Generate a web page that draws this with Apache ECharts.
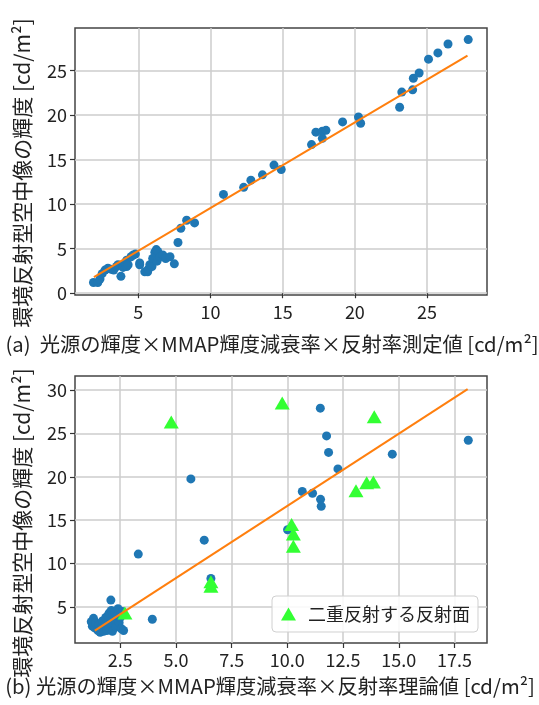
<!DOCTYPE html>
<html><head><meta charset="utf-8">
<script src="https://cdn.jsdelivr.net/npm/echarts@6/dist/echarts.min.js"></script>
<style>html,body{margin:0;padding:0;background:#fff}#c{width:539px;height:705px}</style>
</head><body><div id="c"></div>
<script>
// (a) measured reflectance
const measuredPoints = [
  [1.9,1.2],[2.2,1.2],[2.35,1.6],[2.5,2.2],[2.7,2.6],[2.9,2.8],[3.1,2.7],[3.3,2.6],[3.5,3.0],[3.6,3.2],
  [3.8,1.9],[3.95,2.9],[4.1,3.4],[4.2,3.0],[4.2,3.7],[4.3,3.2],[4.5,4.1],[4.65,4.3],[4.8,4.4],[5.1,3.2],
  [5.1,3.4],[5.45,2.4],[5.65,2.4],[5.7,2.7],[5.8,3.2],[5.95,3.0],[6.0,3.9],[6.15,4.6],[6.25,4.9],[6.3,3.6],
  [6.35,4.7],[6.5,4.1],[6.7,4.3],[6.9,3.9],[7.2,4.1],[7.5,3.3],[7.75,5.7],[7.95,7.3],[8.35,8.2],[8.9,7.9],
  [10.9,11.1],[12.3,11.9],[12.8,12.7],[13.6,13.3],[14.4,14.4],[14.9,13.9],[17.0,16.7],[17.3,18.1],[17.75,18.2],[18.0,18.3],
  [17.75,17.4],[19.15,19.25],[20.25,19.8],[20.4,19.1],[23.1,20.9],[23.25,22.6],[24.0,22.85],[24.05,24.15],[24.45,24.75],[25.1,26.3],
  [25.75,27.0],[26.45,28.0],[27.85,28.5]
];
const measuredFitLine = [[1.93,1.80],[27.8,26.7]];

// (b) theoretical reflectance
const theoryPoints = [
  [1.2,3.3],[1.25,2.8],[1.3,3.7],[1.35,2.6],[1.4,3.2],[1.5,2.3],[1.55,3.0],[1.6,2.1],[1.65,2.6],[1.7,3.4],
  [1.75,2.2],[1.8,2.9],[1.85,3.8],[1.9,2.3],[1.95,4.0],[2.0,2.6],[2.0,4.3],[2.05,3.1],[2.08,5.8],[2.1,4.6],
  [2.15,2.2],[2.2,3.6],[2.25,4.4],[2.3,2.7],[2.35,4.0],[2.4,4.8],[2.45,3.2],[2.5,3.8],[2.55,2.5],[2.6,4.5],[2.65,2.3],
  [3.31,11.1],[3.94,3.6],[5.67,19.75],[6.27,12.7],[6.57,8.3],[10.01,13.9],[10.67,18.3],[11.13,18.1],[11.49,17.4],
  [11.52,16.6],[11.48,27.9],[11.76,24.7],[11.85,22.8],[12.27,20.9],[14.71,22.6],[18.12,24.2]
];
const theoryDoublePoints = [
  [2.71,4.3],[4.79,26.3],[6.57,7.9],[6.57,7.4],[9.77,28.5],[10.19,14.5],[10.27,13.4],[10.27,12.0],
  [13.08,18.4],[13.56,19.3],[13.86,19.4],[13.90,26.9]
];
const theoryFitLine = [[1.36,2.28],[18.09,30.09]];

const ticksAx = [5,10,15,20,25];
const ticksAy = [0,5,10,15,20,25];
const ticksBx = [2.5,5,7.5,10,12.5,15,17.5];
const ticksBy = [5,10,15,20,25,30];

const titleAx = '(a)  光源の輝度×MMAP輝度減衰率×反射率測定値 [cd/m²]';
const titleBx = '(b) 光源の輝度×MMAP輝度減衰率×反射率理論値 [cd/m²]';
const titleY = '環境反射型空中像の輝度 [cd/m²]';
const legendName = '二重反射する反射面';

const FONT = '"Noto Sans CJK JP", "Noto Sans", sans-serif';
const gridLine = {show:true, lineStyle:{color:'#cccccc', width:1.5}};
const tick = {show:true, length:5, lineStyle:{color:'#333', width:1.2}};
function axis(gi, min, max, ticks, fmt) {
  return {
    type:'value', gridIndex:gi, min:min, max:max,
    axisLine:{show:false},
    axisTick:Object.assign({customValues:ticks}, tick),
    axisLabel:{customValues:ticks, formatter:fmt, color:'#222', fontSize:18, fontFamily:FONT, margin:8},
    splitLine:gridLine
  };
}
const chart = echarts.init(document.getElementById('c'), null, {renderer:'canvas'});
chart.setOption({
  animation:false,
  backgroundColor:'#fff',
  grid:[
    {left:75, top:28, width:412, height:267, show:true, borderColor:'#444', borderWidth:1.5, backgroundColor:'transparent'},
    {left:75, top:376, width:412, height:267, show:true, borderColor:'#444', borderWidth:1.5, backgroundColor:'transparent'}
  ],
  xAxis:[
    axis(0, 0.62, 29.15, ticksAx, v=>String(v)),
    axis(1, 0.47, 18.96, ticksBx, v=>v.toFixed(1))
  ],
  yAxis:[
    axis(0, -0.2, 29.8, ticksAy, v=>String(v)),
    axis(1, 0.86, 31.6, ticksBy, v=>String(v))
  ],
  legend:{
    data:[legendName], left:272, top:596, orient:'horizontal',
    backgroundColor:'rgba(255,255,255,0.85)', borderColor:'#d0d0d0', borderWidth:1, borderRadius:4,
    padding:[9,8,9,9], itemWidth:15, itemHeight:13,
    textStyle:{fontSize:18, fontFamily:FONT, color:'#222', padding:[0,0,0,7]}
  },
  graphic:[
    {type:'text', x:272, y:344, style:{text:titleAx, font:'20.3px '+FONT, fill:'#222', textAlign:'center', textVerticalAlign:'middle'}},
    {type:'text', x:270, y:686, style:{text:titleBx, font:'20.3px '+FONT, fill:'#222', textAlign:'center', textVerticalAlign:'middle'}},
    {type:'text', x:22, y:173, rotation:Math.PI/2, style:{text:titleY, font:'21px '+FONT, fill:'#222', textAlign:'center', textVerticalAlign:'middle'}},
    {type:'text', x:22, y:523, rotation:Math.PI/2, style:{text:titleY, font:'21px '+FONT, fill:'#222', textAlign:'center', textVerticalAlign:'middle'}}
  ],
  series:[
    {type:'scatter', xAxisIndex:0, yAxisIndex:0, data:measuredPoints, symbol:'circle', symbolSize:9, itemStyle:{color:'#1f77b4', opacity:1}},
    {type:'line', xAxisIndex:0, yAxisIndex:0, data:measuredFitLine, showSymbol:false, symbol:'none', lineStyle:{color:'#ff7f0e', width:2}},
    {type:'scatter', xAxisIndex:1, yAxisIndex:1, data:theoryPoints, symbol:'circle', symbolSize:9, itemStyle:{color:'#1f77b4', opacity:1}},
    {type:'scatter', name:legendName, xAxisIndex:1, yAxisIndex:1, data:theoryDoublePoints, symbol:'triangle', symbolSize:[15,13], itemStyle:{color:'#33ff33', opacity:1}},
    {type:'line', xAxisIndex:1, yAxisIndex:1, data:theoryFitLine, showSymbol:false, symbol:'none', lineStyle:{color:'#ff7f0e', width:2}}
  ]
});
</script>
</body></html>
